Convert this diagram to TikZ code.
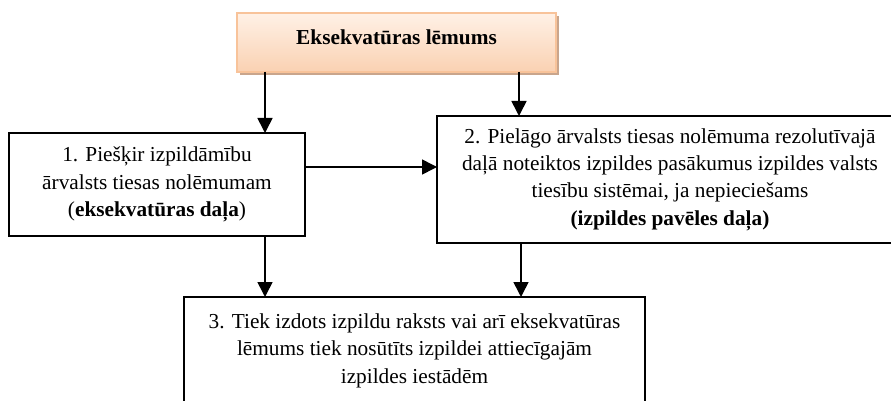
\documentclass[tikz,border=0pt]{standalone}
\usepackage{fontspec}
\setmainfont{Liberation Serif}
\usetikzlibrary{arrows.meta,shadows}
\definecolor{peachtop}{HTML}{FFF1E6}
\definecolor{peachbot}{HTML}{FAD1B2}
\definecolor{peachline}{HTML}{F8C39A}
\definecolor{shadowbrown}{HTML}{C9A58C}
\tikzset{
  box/.style={draw=black, line width=2pt, fill=white, align=center,
    outer sep=0pt, inner sep=0pt, anchor=north west,
    font=\fontsize{21.3}{27.4}\selectfont},
  headbox/.style={draw=peachline, line width=2pt, top color=peachtop,
    bottom color=peachbot, anchor=north west, outer sep=0pt, inner sep=0pt,
    font=\fontsize{21.3}{27.4}\selectfont\bfseries,
    drop shadow={shadow xshift=3pt, shadow yshift=-3pt, fill=shadowbrown, opacity=1}},
  arr/.style={line width=1.6pt, -{Triangle[length=15pt,width=15pt]}}
}
\begin{document}
\begin{tikzpicture}[x=1pt,y=-1pt]
\clip (0,0) rectangle (891,401);
\fill[white] (0,0) rectangle (891,401);

% header
\node[headbox, minimum width=319pt, minimum height=59pt,
      text height=15pt, text depth=10pt] (head) at (237,13) {Eksekvatūras lēmums};

% step boxes
\node[box, minimum width=296pt, minimum height=103pt] (b1) at (9,133)
  {1. Piešķir izpildāmību\\ārvalsts tiesas nolēmumam\\(\textbf{eksekvatūras daļa})};
\node[box, minimum width=466pt, minimum height=127pt] (b2) at (437,116)
  {2. Pielāgo ārvalsts tiesas nolēmuma rezolutīvajā\\daļā noteiktos izpildes pasākumus izpildes valsts\\tiesību sistēmai, ja nepieciešams\\\textbf{(izpildes pavēles daļa)}};
\node[box, minimum width=461pt, minimum height=107pt] (b3) at (184,297)
  {3. Tiek izdots izpildu raksts vai arī eksekvatūras\\lēmums tiek nosūtīts izpildei attiecīgajām\\izpildes iestādēm};

% arrow columns
\coordinate (xl) at (265,0);
\coordinate (xr) at (519,0);
\coordinate (xr3) at (521,0);
\coordinate (ym) at (0,167);

\draw[arr] (head.south -| xl) -- (b1.north -| xl);
\draw[arr] (head.south -| xr) -- (b2.north -| xr);
\draw[arr] (b1.east |- ym) -- (b2.west |- ym);
\draw[arr] (b1.south -| xl) -- (b3.north -| xl);
\draw[arr] (b2.south -| xr3) -- (b3.north -| xr3);
\end{tikzpicture}
\end{document}
